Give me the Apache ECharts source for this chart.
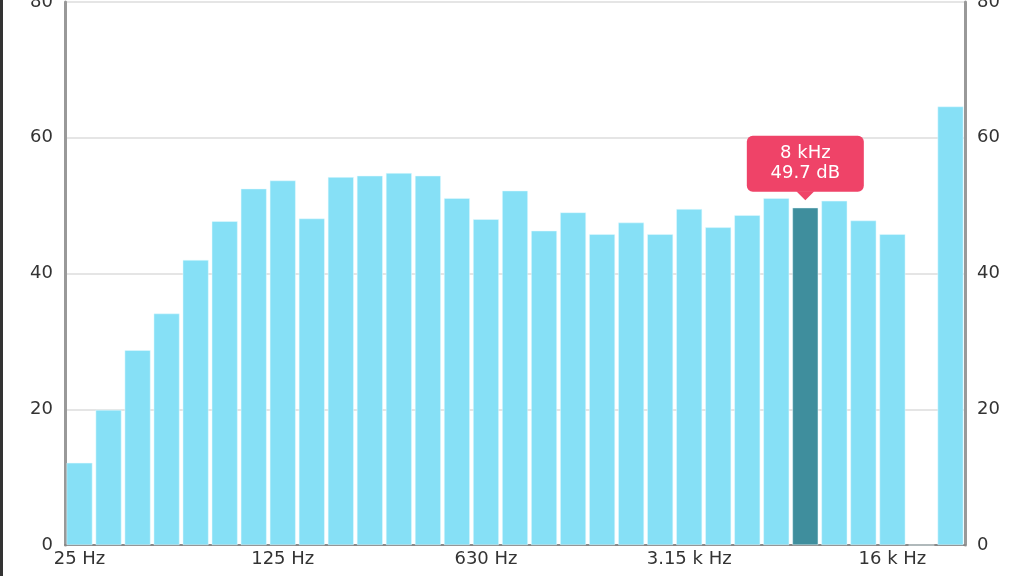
<!DOCTYPE html>
<html>
<head>
<meta charset="utf-8">
<script src="https://cdn.jsdelivr.net/npm/echarts@6/dist/echarts.min.js"></script>
<style>
html,body{margin:0;padding:0;background:#fff;}
#chart{width:1024px;height:576px;}
</style>
</head>
<body>
<div id="chart"></div>
<script>
const categories = ['25 Hz','31.5 Hz','40 Hz','50 Hz','63 Hz','80 Hz','100 Hz','125 Hz','160 Hz','200 Hz','250 Hz','315 Hz','400 Hz','500 Hz','630 Hz','800 Hz','1 k Hz','1.25 k Hz','1.6 k Hz','2 k Hz','2.5 k Hz','3.15 k Hz','4 k Hz','5 k Hz','6.3 k Hz','8 k Hz','10 k Hz','12.5 k Hz','16 k Hz','20 k Hz','Total'];
const levels = [12.1,19.9,28.7,34.1,42.0,47.7,52.5,53.7,48.1,54.2,54.4,54.8,54.4,51.1,48.0,52.2,46.3,49.0,45.8,47.5,45.8,49.5,46.8,48.6,51.1,49.7,50.7,47.8,45.8,0,64.6];
const yTicks = [0,20,40,60,80];
const selectedIndex = 25;
const selectedTitle = '8 kHz';
const selectedText = '49.7 dB';

const FONT = 'DejaVu Sans';
const barColor = '#86E0F6';
const selColor = '#3F8E9D';
const tipColor = '#EF4368';

const data = levels.map((v, i) => {
  if (i !== selectedIndex) return v;
  return {
    value: v,
    itemStyle: { color: selColor },
    label: {
      show: true,
      position: 'top',
      distance: 16,
      formatter: selectedTitle + '\n' + selectedText,
      backgroundColor: tipColor,
      borderRadius: 6,
      width: 117,
      align: 'center',
      padding: [8, 0],
      color: '#fff',
      fontFamily: FONT,
      fontSize: 18,
      lineHeight: 20
    }
  };
});

const chart = echarts.init(document.getElementById('chart'), null, { renderer: 'canvas' });
const axisLabelStyle = { color: '#333', fontFamily: FONT, fontSize: 18 };
chart.setOption({
  animation: false,
  grid: { left: 65, right: 59, top: 2, bottom: 31, containLabel: false, outerBoundsMode: 'none' },
  xAxis: {
    type: 'category',
    data: categories,
    boundaryGap: true,
    axisLine: { lineStyle: { color: '#888', width: 2 } },
    axisTick: { show: false },
    axisLabel: Object.assign({ interval: 6, margin: 5 }, axisLabelStyle)
  },
  yAxis: [
    {
      type: 'value', min: yTicks[0], max: yTicks[yTicks.length - 1], interval: 20,
      position: 'left',
      axisLine: { show: true, lineStyle: { color: '#999', width: 3 } },
      axisTick: { show: false },
      splitLine: { lineStyle: { color: '#dcdcdc', width: 1.5 } },
      axisLabel: Object.assign({ margin: 12 }, axisLabelStyle)
    },
    {
      type: 'value', min: yTicks[0], max: yTicks[yTicks.length - 1], interval: 20,
      position: 'right',
      axisLine: { show: true, lineStyle: { color: '#999', width: 3 } },
      axisTick: { show: false },
      splitLine: { show: false },
      axisLabel: Object.assign({ margin: 12 }, axisLabelStyle)
    }
  ],
  graphic: [
    { type: 'rect', left: 0, top: 0, shape: { width: 3, height: 576 }, style: { fill: '#333' } }
  ],
  series: [{
    type: 'bar',
    data: data,
    barCategoryGap: '11%',
    itemStyle: { color: barColor, borderColor: '#e6fbff', borderWidth: 0.5 },
    markPoint: {
      silent: true,
      symbol: 'triangle',
      symbolRotate: 180,
      symbolSize: [18, 9],
      symbolOffset: [0, -12],
      itemStyle: { color: tipColor },
      label: { show: false },
      data: [{ coord: [selectedIndex, levels[selectedIndex]] }]
    }
  }]
});
</script>
</body>
</html>
